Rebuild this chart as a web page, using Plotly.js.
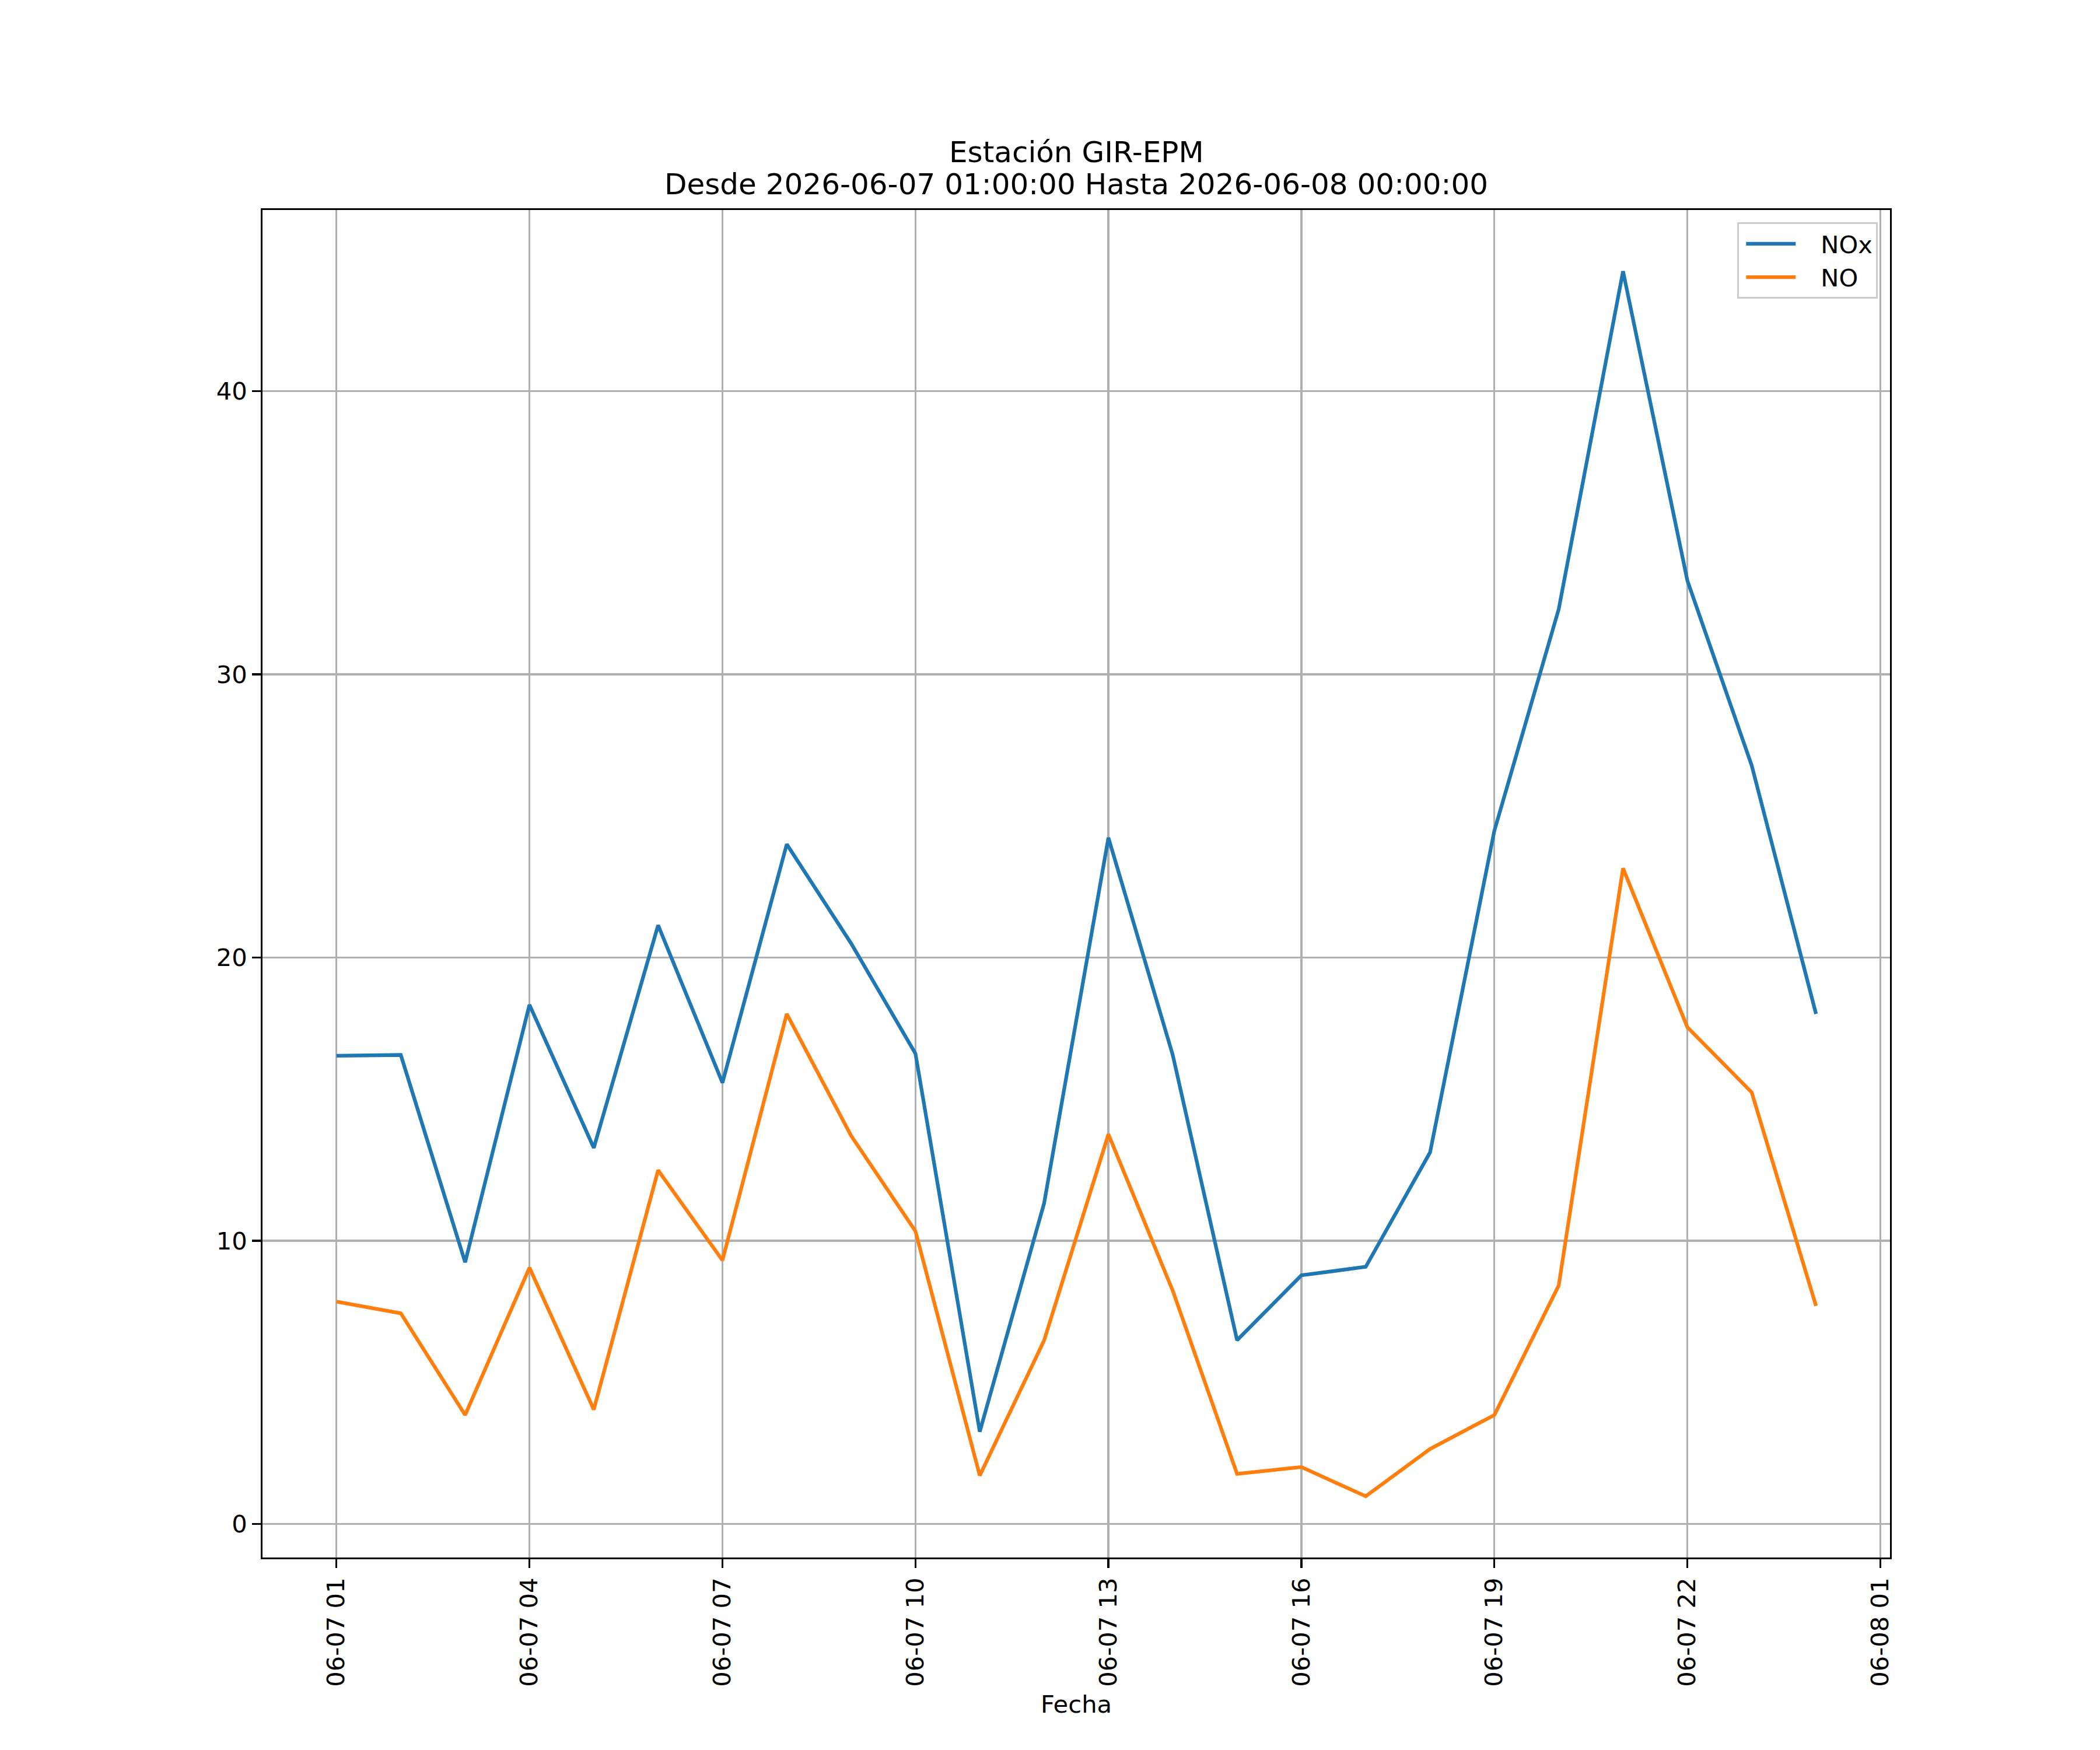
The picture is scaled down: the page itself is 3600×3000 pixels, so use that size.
<!DOCTYPE html>
<html>
<head>
<meta charset="utf-8">
<script src="https://cdn.plot.ly/plotly-3.0.1.min.js"></script>
<style>
  html, body { margin: 0; padding: 0; background: #fff; }
  #chart { width: 3600px; height: 3000px; }
</style>
</head>
<body>
<div id="chart"></div>
<script>
const fechas = [
  '2026-06-07 01:00', '2026-06-07 02:00', '2026-06-07 03:00', '2026-06-07 04:00',
  '2026-06-07 05:00', '2026-06-07 06:00', '2026-06-07 07:00', '2026-06-07 08:00',
  '2026-06-07 09:00', '2026-06-07 10:00', '2026-06-07 11:00', '2026-06-07 12:00',
  '2026-06-07 13:00', '2026-06-07 14:00', '2026-06-07 15:00', '2026-06-07 16:00',
  '2026-06-07 17:00', '2026-06-07 18:00', '2026-06-07 19:00', '2026-06-07 20:00',
  '2026-06-07 21:00', '2026-06-07 22:00', '2026-06-07 23:00', '2026-06-08 00:00'
];

const nox = [
  16.53, 16.56, 9.24, 18.33, 13.28, 21.14, 15.58, 24.0,
  20.5, 16.61, 3.26, 11.32, 24.23, 16.56, 6.49, 8.78,
  9.08, 13.12, 24.48, 32.3, 44.23, 33.31, 26.78, 18.01
];

const no = [
  7.85, 7.44, 3.85, 9.05, 4.04, 12.49, 9.31, 18.01,
  13.71, 10.34, 1.71, 6.48, 13.76, 8.24, 1.77, 2.01,
  0.98, 2.65, 3.85, 8.42, 23.15, 17.54, 15.24, 7.7
];

const yTicks = [0, 10, 20, 30, 40];
const tituloLineas = ['Estación GIR-EPM', 'Desde 2026-06-07 01:00:00 Hasta 2026-06-08 00:00:00'];

const FONT = 'DejaVu Sans, sans-serif';
const PT = 300 / 72; // matplotlib points -> px at 300 dpi

const traces = [
  { x: fechas, y: nox, name: 'NOx', type: 'scatter', mode: 'lines',
    line: { color: '#1f77b4', width: 1.5 * PT } },
  { x: fechas, y: no, name: 'NO', type: 'scatter', mode: 'lines',
    line: { color: '#ff7f0e', width: 1.5 * PT } }
];

// matplotlib style 5% margins around the data
const allY = nox.concat(no);
const yMin = Math.min(...allY), yMax = Math.max(...allY);
const yPad = (yMax - yMin) * 0.05;
const t0 = new Date(fechas[0].replace(' ', 'T') + 'Z').getTime();
const t1 = new Date(fechas[fechas.length - 1].replace(' ', 'T') + 'Z').getTime();
const tPad = (t1 - t0) * 0.05;
const fmt = t => new Date(t).toISOString().replace('T', ' ').slice(0, 19);

const axisCommon = {
  showline: true, mirror: true, linecolor: '#000', linewidth: 0.8 * PT,
  showgrid: true, gridcolor: '#b0b0b0', gridwidth: 0.8 * PT,
  zeroline: false,
  ticks: 'outside', ticklen: 3.5 * PT, tickwidth: 0.8 * PT, tickcolor: '#000',
  tickfont: { family: FONT, size: 10 * PT, color: '#000' }
};

// two title lines, matplotlib spacing
const titleFont = { family: FONT, size: 12 * PT, color: '#000' };
const annotations = tituloLineas.map((txt, i) => ({
  text: txt, showarrow: false, font: titleFont,
  xref: 'paper', x: 0.5, xanchor: 'center',
  yref: 'paper', y: 1, yanchor: 'bottom',
  yshift: i === 0 ? 68 : 13
}));

const layout = {
  width: 3600, height: 3000,
  margin: { l: 450, r: 360, t: 360, b: 330 },
  paper_bgcolor: '#fff', plot_bgcolor: '#fff',
  font: { family: FONT, size: 10 * PT, color: '#000' },
  showlegend: true,
  annotations: annotations,
  xaxis: Object.assign({}, axisCommon, {
    type: 'date',
    range: [fmt(t0 - tPad), fmt(t1 + tPad)],
    tick0: '2026-06-07 01:00', dtick: 3 * 3600 * 1000,
    tickformat: '%m-%d %H', tickangle: -90,
    title: { text: 'Fecha', font: { family: FONT, size: 10 * PT, color: '#000' }, standoff: 4 * PT }
  }),
  yaxis: Object.assign({}, axisCommon, {
    range: [yMin - yPad, yMax + yPad],
    tickvals: yTicks, ticktext: yTicks.map(String)
  }),
  legend: {
    x: 1 - 21 / 2790, xanchor: 'right', y: 1 - 21 / 2310, yanchor: 'top',
    bgcolor: 'rgba(255,255,255,0.8)', bordercolor: '#cccccc', borderwidth: 0.8 * PT,
    font: { family: FONT, size: 10 * PT, color: '#000' },
    itemwidth: 130
  }
};

Plotly.newPlot('chart', traces, layout, { staticPlot: true, displayModeBar: false }).then(gd => {
  // longer legend handles, like matplotlib's handlelength=2
  gd.querySelectorAll('.legendlines path').forEach(p => p.setAttribute('d', 'M12,0h85'));
});
</script>
</body>
</html>
